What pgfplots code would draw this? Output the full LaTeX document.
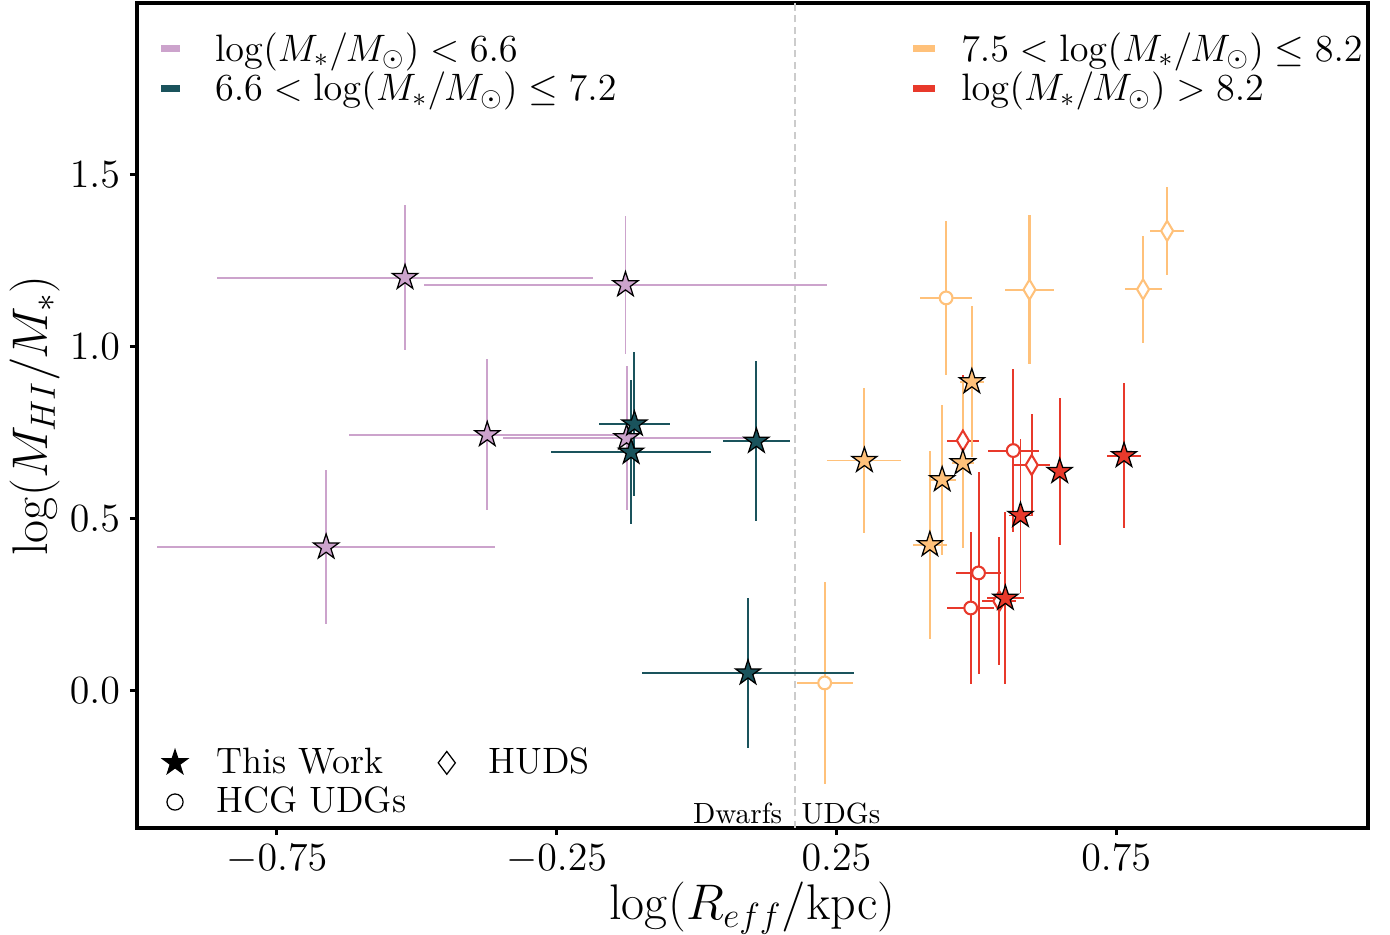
\RequirePackage{fix-cm}
\documentclass[border=0pt]{standalone}
\usepackage{pgfplots}
\usepackage{pgfplotstable}
\pgfplotsset{compat=1.18}
\definecolor{pinkc}{HTML}{CCA3CC}
\definecolor{tealc}{HTML}{1A535C}
\definecolor{orangec}{HTML}{FFC17A}
\definecolor{redc}{HTML}{E8392B}
\definecolor{dashc}{HTML}{CCCCCC}

\pgfdeclareplotmark{fstar}{%
  \pgfpathmoveto{\pgfpointpolar{90}{\pgfplotmarksize}}%
  \pgfpathlineto{\pgfpointpolar{126}{0.382\pgfplotmarksize}}%
  \pgfpathlineto{\pgfpointpolar{162}{\pgfplotmarksize}}%
  \pgfpathlineto{\pgfpointpolar{198}{0.382\pgfplotmarksize}}%
  \pgfpathlineto{\pgfpointpolar{234}{\pgfplotmarksize}}%
  \pgfpathlineto{\pgfpointpolar{270}{0.382\pgfplotmarksize}}%
  \pgfpathlineto{\pgfpointpolar{306}{\pgfplotmarksize}}%
  \pgfpathlineto{\pgfpointpolar{342}{0.382\pgfplotmarksize}}%
  \pgfpathlineto{\pgfpointpolar{18}{\pgfplotmarksize}}%
  \pgfpathlineto{\pgfpointpolar{54}{0.382\pgfplotmarksize}}%
  \pgfpathclose
  \pgfusepathqfillstroke
}
\pgfdeclareplotmark{tdiamond}{%
  \pgfpathmoveto{\pgfqpoint{0pt}{\pgfplotmarksize}}%
  \pgfpathlineto{\pgfqpoint{0.6\pgfplotmarksize}{0pt}}%
  \pgfpathlineto{\pgfqpoint{0pt}{-\pgfplotmarksize}}%
  \pgfpathlineto{\pgfqpoint{-0.6\pgfplotmarksize}{0pt}}%
  \pgfpathclose
  \pgfusepathqfillstroke
}

% ---- data: x y x-error y-error ----
\pgfplotstableread{
x y ex ey
-0.521 1.201 0.336 0.210
-0.127 1.180 0.360 0.200
-0.374 0.744 0.248 0.220
-0.125 0.735 0.220 0.210
-0.662 0.417 0.302 0.224
}\pinkstars
\pgfplotstableread{
x y ex ey
-0.111 0.775 0.064 0.210
-0.117 0.693 0.143 0.210
0.107 0.725 0.060 0.233
0.092 0.051 0.190 0.217
}\tealstars
\pgfplotstableread{
x y ex ey
0.229 0.022 0.050 0.293
0.446 1.142 0.046 0.225
}\orangecirc
\pgfplotstableread{
x y ex ey
0.595 1.166 0.043 0.216
0.798 1.167 0.033 0.156
0.841 1.337 0.031 0.129
}\orangediam
\pgfplotstableread{
x y ex ey
0.300 0.669 0.066 0.212
0.492 0.898 0.022 0.220
0.476 0.662 0.020 0.247
0.439 0.613 0.024 0.218
0.417 0.424 0.030 0.274
}\orangestars
\pgfplotstableread{
x y ex ey
0.566 0.698 0.046 0.236
0.504 0.342 0.040 0.293
0.490 0.240 0.042 0.222
}\redcirc
\pgfplotstableread{
x y ex ey
0.476 0.727 0.029 0.190
0.599 0.656 0.032 0.149
0.541 0.260 0.030 0.186
}\reddiam
\pgfplotstableread{
x y ex ey
0.649 0.637 0.010 0.214
0.764 0.683 0.030 0.211
0.579 0.509 0.020 0.224
0.552 0.268 0.033 0.250
}\redstars

\pgfplotsset{
  frame/.style={at={(0,0)}, anchor=south west, scale only axis,
    width=442.8pt, height=296.76pt},
  legax/.style={frame, hide axis, xmin=0, xmax=1, ymin=0, ymax=1},
}

\begin{document}
\begin{tikzpicture}
\useasboundingbox (-49.28pt,-38.49pt) rectangle (450.72pt,297.84pt);
\begin{axis}[
  frame,
  xmin=-1.0, xmax=1.2, ymin=-0.4, ymax=2.0,
  xtick={-0.75,-0.25,0.25,0.75}, ytick={0,0.5,1.0,1.5},
  xticklabel style={/pgf/number format/.cd, fixed, fixed zerofill, precision=2},
  yticklabel style={/pgf/number format/.cd, fixed, fixed zerofill, precision=1},
  tick label style={font=\fontsize{14.4}{17}\selectfont},
  tick pos=left, tick align=outside, major tick length=2.6pt,
  every tick/.style={black, line width=1.1pt},
  axis line style={line width=1.1pt},
  xlabel={$\log(R_{eff}/\mathrm{kpc})$},
  ylabel={$\log(M_{HI}/M_{*})$},
  every axis x label/.style={at={(axis description cs:0.5,-0.097)}, anchor=center,
    font=\fontsize{18}{21}\selectfont},
  every axis y label/.style={at={(axis description cs:-0.0829,0.5)}, anchor=center,
    rotate=90, font=\fontsize{18}{21}\selectfont},
]
\addplot[dashc, line width=0.75pt, dash pattern=on 2.6pt off 1.6pt, forget plot]
  coordinates {(0.176,-0.4) (0.176,2.0)};

% HCG UDGs (circles) and HUDS (diamonds)
\addplot[only marks, mark=*, mark size=2.3pt, orangec,
  mark options={fill=white, draw=orangec, line width=0.75pt},
  error bars/x dir=both, error bars/x explicit, error bars/y dir=both, error bars/y explicit,
  error bars/error mark=none, error bars/error bar style={orangec, line width=0.75pt}]
  table[x=x, y=y, x error=ex, y error=ey] {\orangecirc};
\addplot[only marks, mark=tdiamond, mark size=3.6pt, orangec,
  mark options={fill=white, draw=orangec, line width=0.75pt},
  error bars/x dir=both, error bars/x explicit, error bars/y dir=both, error bars/y explicit,
  error bars/error mark=none, error bars/error bar style={orangec, line width=0.75pt}]
  table[x=x, y=y, x error=ex, y error=ey] {\orangediam};
\addplot[only marks, mark=*, mark size=2.3pt, redc,
  mark options={fill=white, draw=redc, line width=0.75pt},
  error bars/x dir=both, error bars/x explicit, error bars/y dir=both, error bars/y explicit,
  error bars/error mark=none, error bars/error bar style={redc, line width=0.75pt}]
  table[x=x, y=y, x error=ex, y error=ey] {\redcirc};
\addplot[only marks, mark=tdiamond, mark size=3.6pt, redc,
  mark options={fill=white, draw=redc, line width=0.75pt},
  error bars/x dir=both, error bars/x explicit, error bars/y dir=both, error bars/y explicit,
  error bars/error mark=none, error bars/error bar style={redc, line width=0.75pt}]
  table[x=x, y=y, x error=ex, y error=ey] {\reddiam};

% This work (stars)
\addplot[only marks, mark=fstar, mark size=4.75pt, black,
  mark options={fill=pinkc, draw=black, line width=0.45pt},
  error bars/x dir=both, error bars/x explicit, error bars/y dir=both, error bars/y explicit,
  error bars/error mark=none, error bars/error bar style={pinkc, line width=0.7pt}]
  table[x=x, y=y, x error=ex, y error=ey] {\pinkstars};
\addplot[only marks, mark=fstar, mark size=4.75pt, black,
  mark options={fill=tealc, draw=black, line width=0.45pt},
  error bars/x dir=both, error bars/x explicit, error bars/y dir=both, error bars/y explicit,
  error bars/error mark=none, error bars/error bar style={tealc, line width=0.7pt}]
  table[x=x, y=y, x error=ex, y error=ey] {\tealstars};
\addplot[only marks, mark=fstar, mark size=4.75pt, black,
  mark options={fill=orangec, draw=black, line width=0.45pt},
  error bars/x dir=both, error bars/x explicit, error bars/y dir=both, error bars/y explicit,
  error bars/error mark=none, error bars/error bar style={orangec, line width=0.7pt}]
  table[x=x, y=y, x error=ex, y error=ey] {\orangestars};
\addplot[only marks, mark=fstar, mark size=4.75pt, black,
  mark options={fill=redc, draw=black, line width=0.45pt},
  error bars/x dir=both, error bars/x explicit, error bars/y dir=both, error bars/y explicit,
  error bars/error mark=none, error bars/error bar style={redc, line width=0.7pt}]
  table[x=x, y=y, x error=ex, y error=ey] {\redstars};

\node[anchor=base east, font=\fontsize{10.5}{13}\selectfont, inner sep=0pt]
  at (axis cs:0.154,-0.386) {Dwarfs};
\node[anchor=base west, font=\fontsize{10.5}{13}\selectfont, inner sep=0pt]
  at (axis cs:0.187,-0.386) {UDGs};
\end{axis}

% legend: low masses
\begin{axis}[legax,
  legend cell align=left,
  legend style={at={(axis description cs:0.0194,0.965)}, anchor=north west,
    draw=none, fill=none, inner sep=0pt, row sep=2.4pt,
    font=\fontsize{13.75}{16.5}\selectfont, nodes={inner sep=0pt},
    /tikz/every odd column/.append style={column sep=12.5pt}},
  legend image code/.code={\fill[#1] (0pt,-1.1pt) rectangle (6.4pt,1.1pt);}]
\addlegendimage{pinkc}
\addlegendentry{$\log(M_*/M_\odot) < 6.6$}
\addlegendimage{tealc}
\addlegendentry{$6.6 < \log(M_*/M_\odot) \leq 7.2$}
\end{axis}

% legend: high masses
\begin{axis}[legax,
  legend cell align=left,
  legend style={at={(axis description cs:0.6303,0.965)}, anchor=north west,
    draw=none, fill=none, inner sep=0pt, row sep=2.4pt,
    font=\fontsize{13.75}{16.5}\selectfont, nodes={inner sep=0pt},
    /tikz/every odd column/.append style={column sep=9.4pt}},
  legend image code/.code={\fill[#1] (0pt,-1.1pt) rectangle (7.4pt,1.1pt);}]
\addlegendimage{orangec}
\addlegendentry{$7.5 < \log(M_*/M_\odot) \leq 8.2$}
\addlegendimage{redc}
\addlegendentry{$\log(M_*/M_\odot) > 8.2$}
\end{axis}

% legend: samples
\begin{axis}[legax,
  legend columns=2, legend cell align=left,
  legend style={at={(axis description cs:0.0187,0.0126)}, anchor=south west,
    draw=none, fill=none, inner sep=0pt, row sep=3.3pt,
    font=\fontsize{13.2}{16}\selectfont, nodes={inner sep=0pt},
    /tikz/every odd column/.append style={column sep=9.7pt},
    /tikz/every even column/.append style={column sep=9.4pt}},
  legend image code/.code={\path (0pt,0pt) (10pt,0pt); \draw[#1] plot coordinates {(5pt,0pt)};}]
\addlegendimage{only marks, mark=fstar, mark size=4.75pt, black, mark options={fill=black}}
\addlegendentry{This Work}
\addlegendimage{only marks, mark=diamond, mark size=4.1pt, black, mark options={line width=0.45pt}}
\addlegendentry{HUDS}
\addlegendimage{only marks, mark=o, mark size=2.9pt, black, mark options={line width=0.45pt}}
\addlegendentry{HCG UDGs}
\end{axis}
\end{tikzpicture}
\end{document}
